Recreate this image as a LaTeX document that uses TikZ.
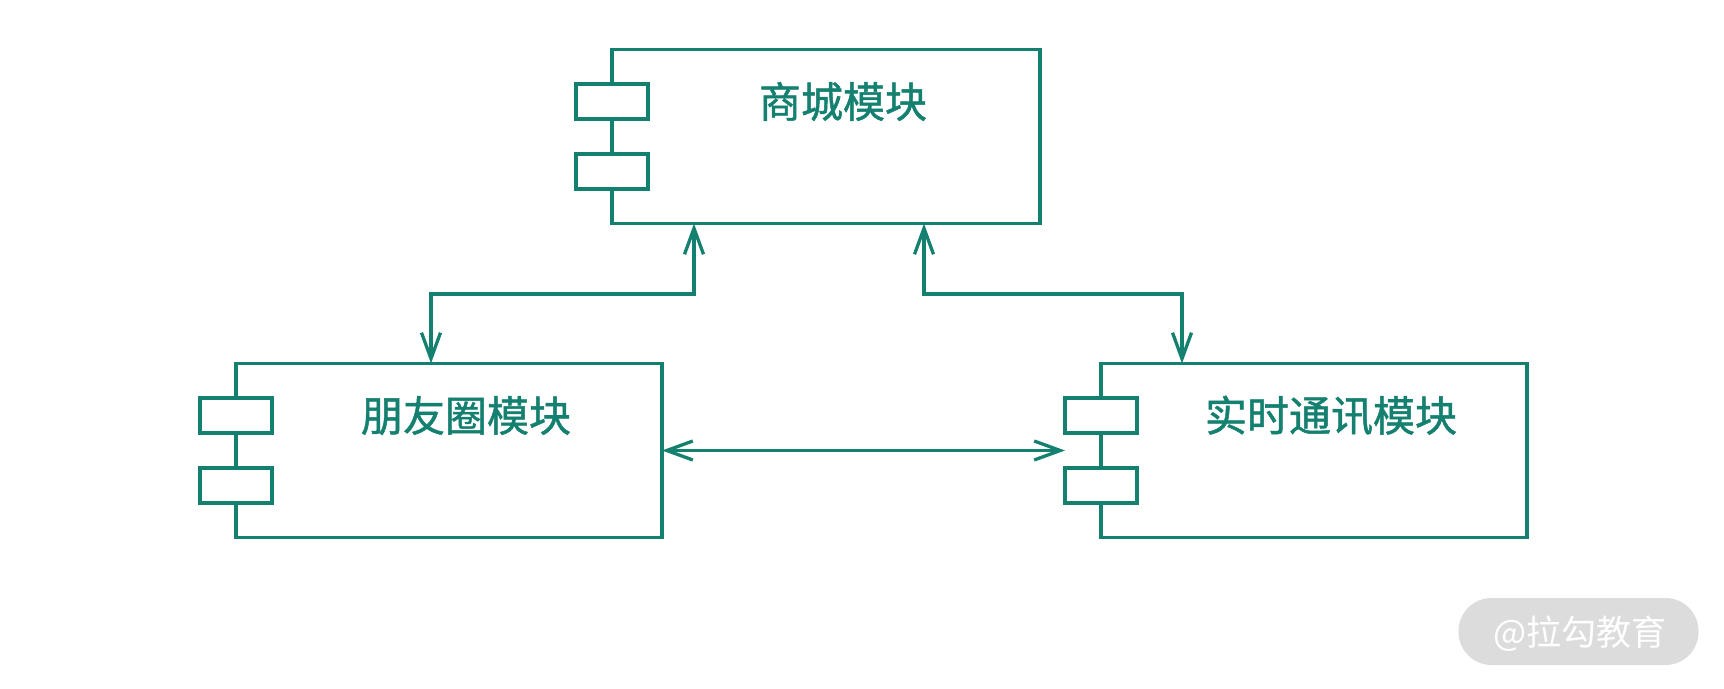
\documentclass[tikz,border=0pt]{standalone}
\usepackage{fontspec}
\newfontfamily\cjk[FakeBold=1.2]{Noto Sans CJK SC}
\newfontfamily\cjkwm{Noto Sans CJK SC}
\usetikzlibrary{arrows.meta}
\definecolor{teal1}{RGB}{20,128,112}
\definecolor{wmgray}{RGB}{220,220,220}
\tikzset{
  modbox/.style={draw=teal1, line width=3.3pt, fill=white, minimum width=426pt, minimum height=174pt, inner sep=0pt, outer sep=0pt},
  port/.style={draw=teal1, line width=3.3pt, fill=white, minimum width=72pt, minimum height=35pt, inner sep=0pt, outer sep=0pt},
  modlabel/.style={text=teal1, font=\cjk\fontsize{42}{46}\selectfont, inner sep=0pt},
  conn/.style={draw=teal1, line width=3.3pt, {Straight Barb[length=26pt,width=19pt]}-{Straight Barb[length=26pt,width=19pt]}},
}
\begin{document}
\begin{tikzpicture}[x=1pt,y=-1pt]
\useasboundingbox (0,0) rectangle (1724,688);
% modules
\node[modbox, minimum width=428pt] (mall) at (826,136.5) {};
\node[modbox] (moments) at (449,450.5) {};
\node[modbox] (chat) at (1314,450.5) {};
% ports
\foreach \m in {mall,moments,chat}{
  \node[port] (\m-p1) at ([yshift=-52pt]\m.north west) {};
  \node[port] (\m-p2) at ([yshift=-122pt]\m.north west) {};
}
% labels
\node[modlabel] (mall-t) at ([xshift=17pt,yshift=-52pt]mall.north) {商城模块};
\node[modlabel] (moments-t) at ([xshift=17pt,yshift=-52pt]moments.north) {朋友圈模块};
\node[modlabel] (chat-t) at ([xshift=17pt,yshift=-52pt]chat.north) {实时通讯模块};
% connector bends
\coordinate (b1) at (694,294);
\coordinate (c1) at (431,294);
\coordinate (b2) at (924,294);
\coordinate (c2) at (1182,294);
\draw[conn] (mall.south -| b1) -- (b1) -- (c1) -- (moments.north -| c1);
\draw[conn] (mall.south -| b2) -- (b2) -- (c2) -- (chat.north -| c2);
\draw[conn] (moments.east) -- (chat-p1.west |- moments.east);
% watermark
\node[fill=wmgray, rounded corners=33pt, minimum width=240pt, minimum height=67pt, inner sep=0pt] (wm) at (1578.5,631.5) {};
\node[text=white, font=\cjkwm\fontsize{35}{38}\selectfont, inner sep=0pt] (wmt) at (1580,634) {@拉勾教育};
\end{tikzpicture}
\end{document}
